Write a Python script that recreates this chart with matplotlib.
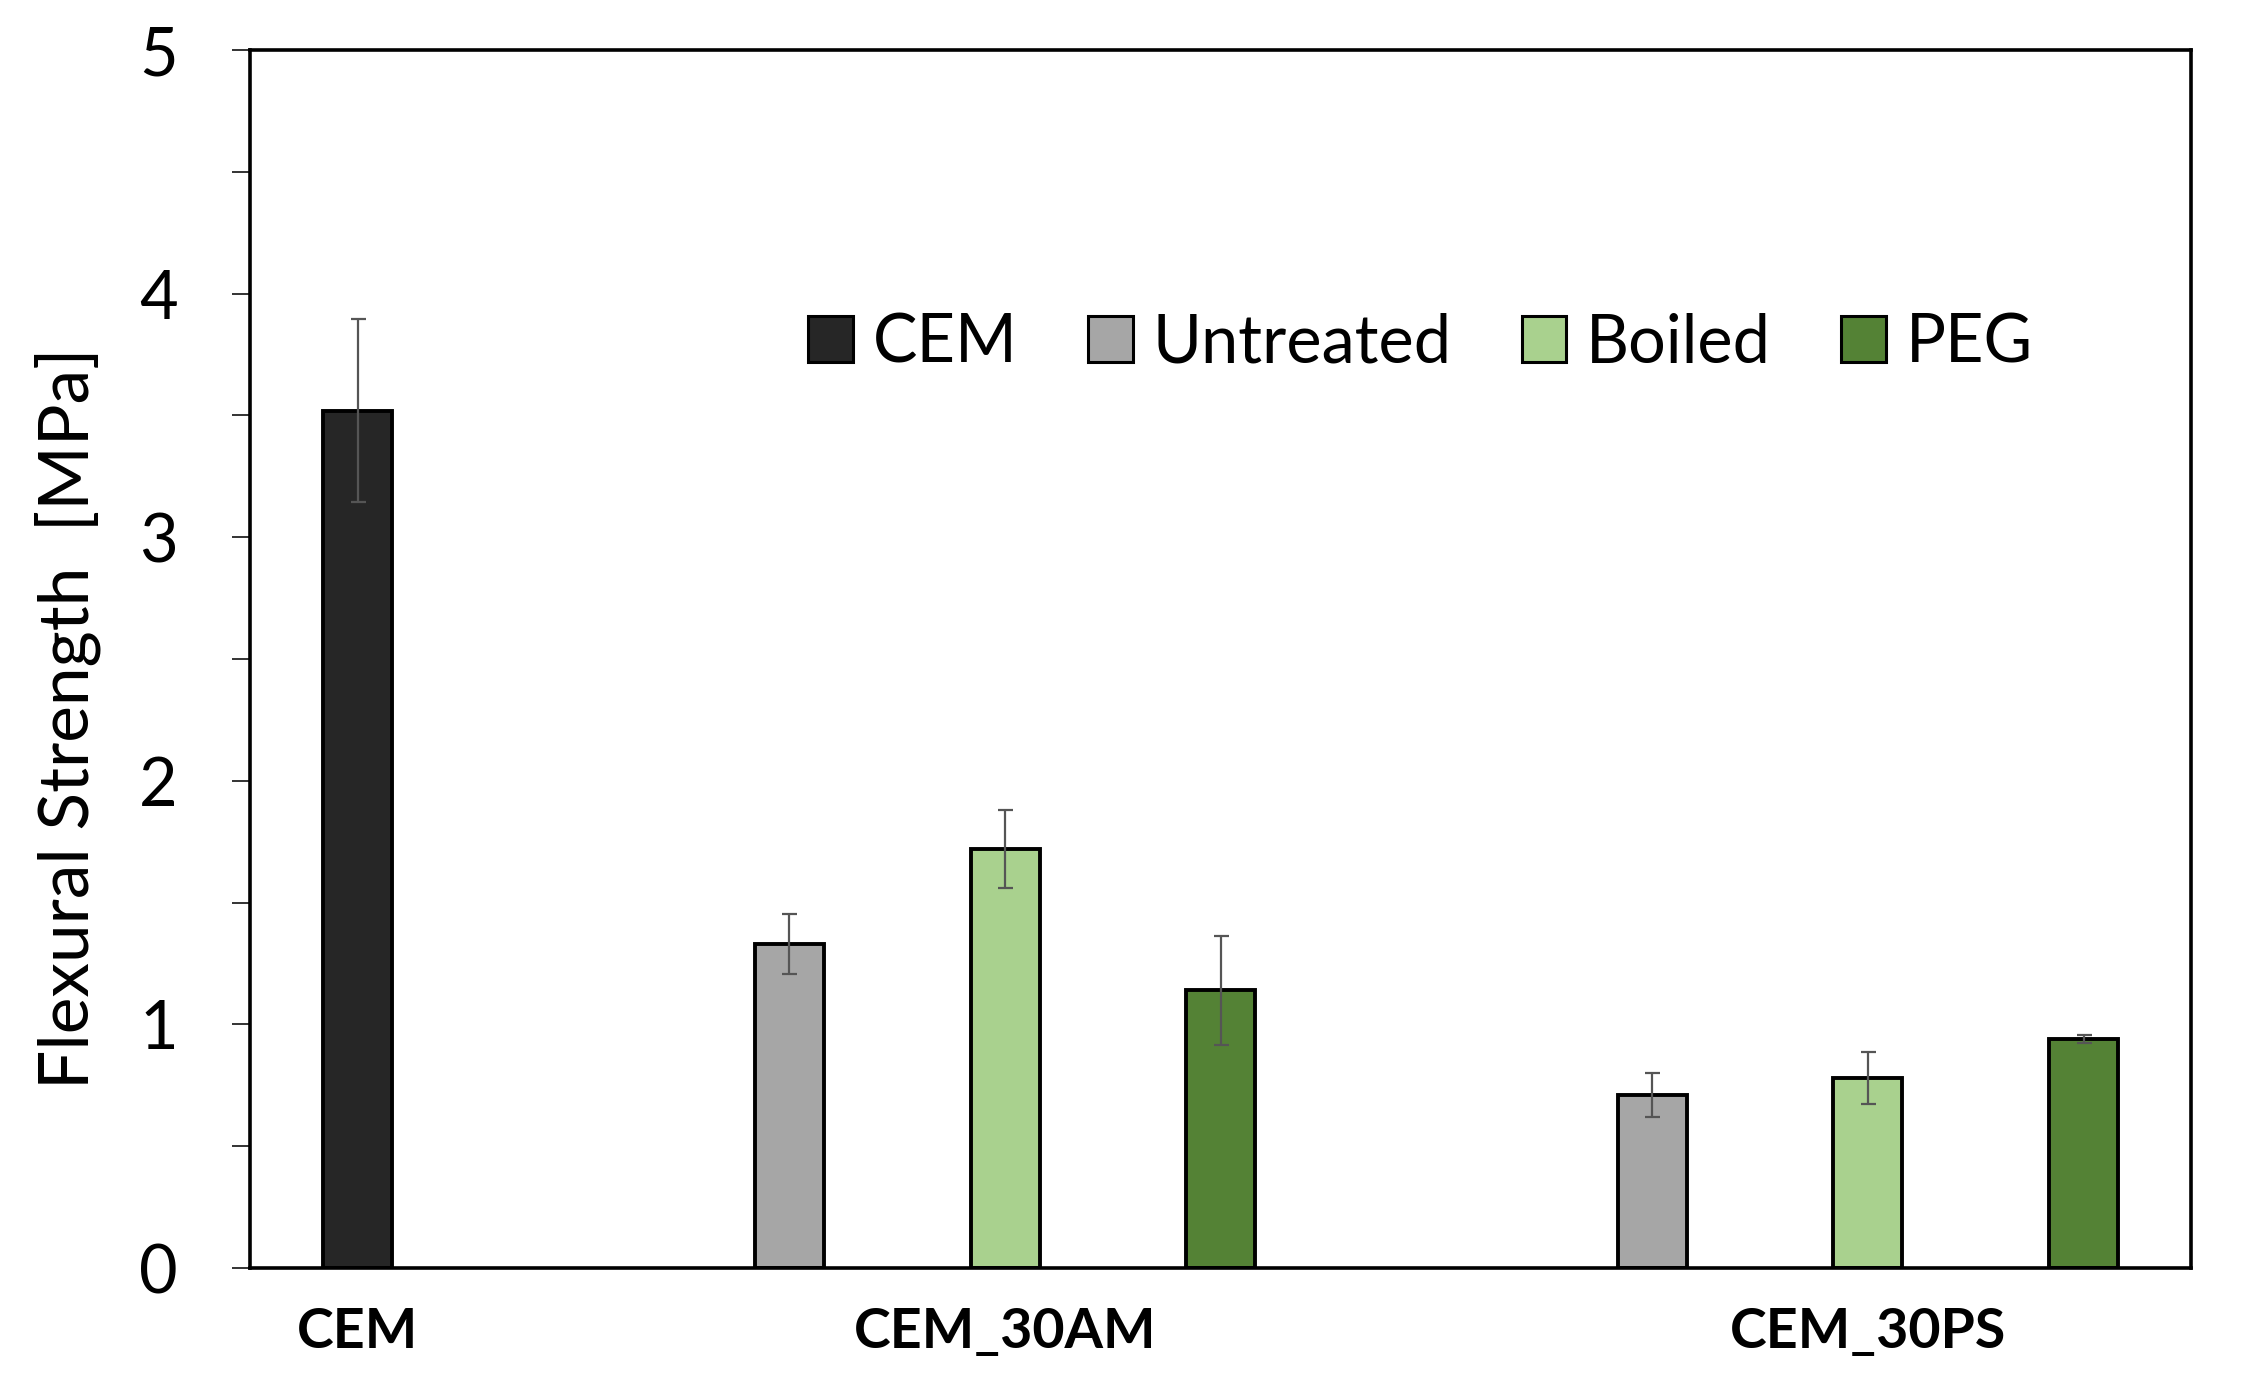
import matplotlib
matplotlib.use("Agg")
import matplotlib.pyplot as plt
from matplotlib.patches import Patch
import numpy as np

plt.rcParams['font.family'] = ['Lato', 'DejaVu Sans']

# ---- data ----
categories = ["CEM", "CEM_30AM", "CEM_30PS"]
series = ["CEM", "Untreated", "Boiled", "PEG"]
colors = ["#262626", "#A6A6A6", "#A9D18E", "#548235"]

bar_category = ["CEM", "CEM_30AM", "CEM_30AM", "CEM_30AM", "CEM_30PS", "CEM_30PS", "CEM_30PS"]
bar_series = ["CEM", "Untreated", "Boiled", "PEG", "Untreated", "Boiled", "PEG"]
bar_values = [3.52, 1.33, 1.72, 1.14, 0.71, 0.78, 0.94]
bar_errors = [0.375, 0.125, 0.16, 0.225, 0.09, 0.105, 0.015]

y_ticks = [0, 1, 2, 3, 4, 5]

# ---- layout: slot positions (one slot per bar, gaps between groups) ----
slot_pos = [0.5, 2.5, 3.5, 4.5, 6.5, 7.5, 8.5]
cat_label_pos = [0.5, 3.5, 7.5]
bar_width = 0.32

fig = plt.figure(figsize=(22.43, 13.78), dpi=100)
ax = fig.add_axes([0.1115, 0.0798, 0.8655, 0.8839])

for x, s, v, e in zip(slot_pos, bar_series, bar_values, bar_errors):
    c = colors[series.index(s)]
    ax.bar(x, v, width=bar_width, color=c, edgecolor="black", linewidth=2.8, zorder=2)
    ax.errorbar(x, v, yerr=e, fmt="none", ecolor="#555555", elinewidth=1.6,
                capsize=5.4, capthick=1.6, zorder=3)

ax.set_xlim(0, 9)
ax.set_ylim(0, 5)
ax.set_yticks(y_ticks)
ax.set_yticks(np.arange(0, 5.01, 0.5), minor=True)
ax.tick_params(axis="y", which="both", direction="out", length=13, width=1.4,
               color="#333333", labelsize=48, pad=39)
ax.set_xticks(cat_label_pos)
ax.set_xticklabels(categories, fontsize=40, fontweight="bold")
ax.tick_params(axis="x", length=0, pad=28)

for sp in ax.spines.values():
    sp.set_linewidth(2.6)
    sp.set_color("black")

ax.set_ylabel("Flexural Strength  [MPa]", fontsize=50, va="center")
ax.yaxis.set_label_coords(-0.094, 0.451)

handles = [Patch(facecolor=c, edgecolor="black", linewidth=2.2) for c in colors]
ax.legend(handles, series, loc="center", bbox_to_anchor=(0.603, 0.759), ncol=4,
          frameon=False, fontsize=48, handlelength=0.67, handleheight=0.67,
          handletextpad=0.3, columnspacing=1.05)

fig.savefig("out.png", dpi=100)
